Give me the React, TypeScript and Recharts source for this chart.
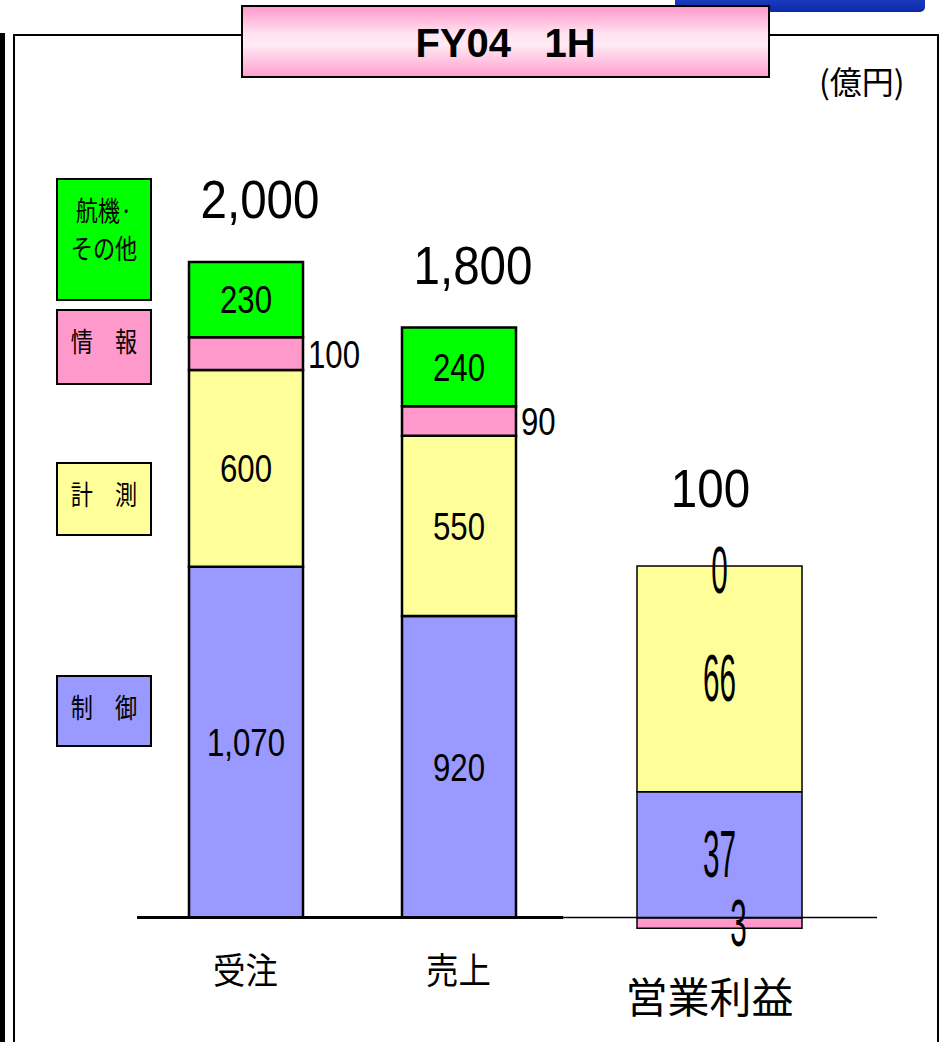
import React from "react";
import { BarChart, Bar, XAxis, YAxis, LabelList, ReferenceLine } from "recharts";

// FY04 1H (億円)
const categories = ["受注", "売上", "営業利益"];

// 受注・売上
const ctrlAmt = [1070, 920, null];
const measAmt = [600, 550, null];
const infoAmt = [100, 90, null];
const otherAmt = [230, 240, null];
const totalAmt = [2000, 1800, null];

// 営業利益
const ctrlProfit = [null, null, 37];
const measProfit = [null, null, 66];
const infoProfit = [null, null, -3];
const otherProfit = [null, null, 0];
const totalProfit = [null, null, 100];

const legendLabels = ["航機·\nその他", "情　報", "計　測", "制　御"];

const COLORS = {
  ctrl: "#9999FF",
  meas: "#FFFF99",
  info: "#FF99CC",
  other: "#00FF00",
};

const data = categories.map((name, i) => ({
  name,
  ctrl: ctrlAmt[i],
  meas: measAmt[i],
  info: infoAmt[i],
  other: otherAmt[i],
  total: totalAmt[i],
  pCtrl: ctrlProfit[i],
  pMeas: measProfit[i],
  pInfo: infoProfit[i],
  pOther: otherProfit[i],
  pTotal: totalProfit[i],
}));

const NUM_FONT = "'Liberation Sans', Arial, sans-serif";
const JP_FONT = "'Noto Sans CJK JP', sans-serif";

const fmt = (v) => Math.abs(Number(v)).toLocaleString("en-US");

const NumText = ({ cx, cy, text, size, sx, anchor = "middle" }) => (
  <g transform={`translate(${cx},${cy}) scale(${sx},1)`}>
    <text
      x={0}
      y={0}
      textAnchor={anchor}
      dominantBaseline="central"
      fontSize={size}
      fontFamily={NUM_FONT}
      fill="#000"
    >
      {text}
    </text>
  </g>
);

// label in the middle of a segment
const midLabel = (size, sx, dx = 0) => (props) => {
  const { x, y, width, height, value } = props;
  if (value == null) return null;
  return (
    <NumText cx={x + width / 2 + dx} cy={y + height / 2} text={fmt(value)} size={size} sx={sx} />
  );
};

// label to the right of a thin segment
const sideLabel = (props) => {
  const { x, y, width, height, value } = props;
  if (value == null) return null;
  return (
    <NumText cx={x + width + 5} cy={y + height / 2} text={fmt(value)} size={39} sx={0.8} anchor="start" />
  );
};

// total above the stack
const totalLabel = (lift, dx) => (props) => {
  const { x, y, width, value } = props;
  if (value == null) return null;
  return <NumText cx={x + width / 2 + dx} cy={y - lift} text={fmt(value)} size={54} sx={0.88} />;
};

// zero-height segment sitting on top of the stack
const topEdgeLabel = (props) => {
  const { x, y, width, value } = props;
  if (value == null) return null;
  return <NumText cx={x + width / 2} cy={y + 4} text={fmt(value)} size={66} sx={0.45} />;
};

const CatTick = ({ x, y, payload, show, size, sx, dx = 0, dy }) => {
  if (!show[payload.index]) return null;
  return (
    <g transform={`translate(${x + dx},${y + dy}) scale(${sx},1)`}>
      <text
        x={0}
        y={0}
        textAnchor="middle"
        dominantBaseline="central"
        fontSize={size}
        fontFamily={JP_FONT}
        fill="#000"
      >
        {payload.value}
      </text>
    </g>
  );
};

const BaseLine = (props) => {
  const { x1, x2, y1 } = props;
  const split = x1 + (x2 - x1) * 0.576;
  return (
    <g>
      <line x1={x1} x2={split} y1={y1} y2={y1} stroke="#000" strokeWidth={3} />
      <line x1={split} x2={x2} y1={y1} y2={y1} stroke="#000" strokeWidth={1.5} />
    </g>
  );
};

const legendBoxes = [
  { color: COLORS.other, top: 178, height: 123 },
  { color: COLORS.info, top: 309, height: 76 },
  { color: COLORS.meas, top: 462, height: 74 },
  { color: COLORS.ctrl, top: 675, height: 72 },
];

export default function App() {
  return (
    <div
      style={{
        position: "absolute",
        left: 0,
        top: 0,
        width: 943,
        height: 1042,
        overflow: "hidden",
        background: "#fff",
      }}
    >
      {/* slide edge + frame */}
      <div style={{ position: "absolute", left: 0, top: 33, width: 5, height: 1020, background: "#000" }} />
      <div
        style={{
          position: "absolute",
          left: 13,
          top: 34,
          width: 922,
          height: 1100,
          border: "2px solid #000",
        }}
      />
      <div
        style={{
          position: "absolute",
          left: 675,
          top: -10,
          width: 250,
          height: 22,
          borderRadius: 5,
          background: "linear-gradient(#2448d0, #0b2aa6)",
        }}
      />
      <div
        style={{
          position: "absolute",
          left: 241,
          top: 5,
          width: 529,
          height: 73,
          border: "2px solid #000",
          boxSizing: "border-box",
          background: "linear-gradient(#ff99cc 0%, #ffe4f1 40%, #ffeaf4 55%, #ff9fcf 100%)",
          display: "flex",
          alignItems: "center",
          justifyContent: "center",
          paddingTop: 4,
          fontFamily: NUM_FONT,
          fontWeight: "bold",
          fontSize: 40,
          whiteSpace: "pre",
        }}
      >
        {"FY04   1H"}
      </div>
      <div
        style={{
          position: "absolute",
          left: 819,
          top: 62,
          fontSize: 32,
          fontFamily: JP_FONT,
          lineHeight: "36px",
        }}
      >
        (億円)
      </div>

      {/* legend */}
      {legendBoxes.map((b, i) => (
        <div
          key={i}
          style={{
            position: "absolute",
            left: 56,
            top: b.top,
            width: 96,
            height: b.height,
            boxSizing: "border-box",
            background: b.color,
            border: "2.5px solid #000",
          }}
        >
          <div
            style={{
              position: "absolute",
              left: 0,
              right: 0,
              top: 11,
              fontFamily: JP_FONT,
              fontSize: 27,
              lineHeight: "38px",
              textAlign: "center",
              whiteSpace: "pre",
              transform: "scaleX(0.82)",
            }}
          >
            {legendLabels[i]}
          </div>
        </div>
      ))}

      <div style={{ position: "absolute", left: 0, top: 0 }}>
        <BarChart
          width={943}
          height={1042}
          data={data}
          stackOffset="sign"
          margin={{ top: 98, right: 66, bottom: 0, left: 137 }}
        >
          <XAxis
            xAxisId="m"
            dataKey="name"
            padding={{ left: 2, right: 99 }}
            axisLine={false}
            tickLine={false}
            tickSize={0}
            height={42}
            interval={0}
            tick={<CatTick show={totalAmt.map((v) => v != null)} size={36} sx={0.9} dy={-4} />}
          />
          <XAxis
            xAxisId="p"
            dataKey="name"
            padding={{ left: 0, right: 41 }}
            axisLine={false}
            tickLine={false}
            tickSize={0}
            height={30}
            interval={0}
            tick={<CatTick show={totalProfit.map((v) => v != null)} size={42} sx={1} dx={-10} dy={-20} />}
          />
          <YAxis yAxisId="m" hide domain={[-160, 2500]} allowDataOverflow />
          <YAxis yAxisId="p" hide domain={[-15.2, 240]} allowDataOverflow />

          <Bar xAxisId="m" yAxisId="m" dataKey="ctrl" stackId="m" barSize={114} fill={COLORS.ctrl} stroke="#000" strokeWidth={2.5} isAnimationActive={false}>
            <LabelList dataKey="ctrl" content={midLabel(39, 0.8)} />
          </Bar>
          <Bar xAxisId="m" yAxisId="m" dataKey="meas" stackId="m" barSize={114} fill={COLORS.meas} stroke="#000" strokeWidth={2.5} isAnimationActive={false}>
            <LabelList dataKey="meas" content={midLabel(39, 0.8)} />
          </Bar>
          <Bar xAxisId="m" yAxisId="m" dataKey="info" stackId="m" barSize={114} fill={COLORS.info} stroke="#000" strokeWidth={2.5} isAnimationActive={false}>
            <LabelList dataKey="info" content={sideLabel} />
          </Bar>
          <Bar xAxisId="m" yAxisId="m" dataKey="other" stackId="m" barSize={114} fill={COLORS.other} stroke="#000" strokeWidth={2.5} isAnimationActive={false}>
            <LabelList dataKey="other" content={midLabel(39, 0.8)} />
            <LabelList dataKey="total" content={totalLabel(62, 14)} />
          </Bar>

          <Bar xAxisId="p" yAxisId="p" dataKey="pCtrl" stackId="p" barSize={165} fill={COLORS.ctrl} stroke="#000" strokeWidth={1.5} isAnimationActive={false}>
            <LabelList dataKey="pCtrl" content={midLabel(66, 0.45)} />
          </Bar>
          <Bar xAxisId="p" yAxisId="p" dataKey="pMeas" stackId="p" barSize={165} fill={COLORS.meas} stroke="#000" strokeWidth={1.5} isAnimationActive={false}>
            <LabelList dataKey="pMeas" content={midLabel(66, 0.45)} />
            {/* 航機・その他 is 0, so its label and the total sit on this segment's top edge */}
            <LabelList dataKey="pOther" content={topEdgeLabel} />
            <LabelList dataKey="pTotal" content={totalLabel(78, -9)} />
          </Bar>
          <Bar xAxisId="p" yAxisId="p" dataKey="pInfo" stackId="p" barSize={165} fill={COLORS.info} stroke="#000" strokeWidth={1.5} isAnimationActive={false}>
            <LabelList dataKey="pInfo" content={midLabel(66, 0.45, 19)} />
          </Bar>
          <Bar xAxisId="p" yAxisId="p" dataKey="pOther" stackId="p" barSize={165} fill={COLORS.other} stroke="#000" strokeWidth={1.5} isAnimationActive={false} />

          <ReferenceLine xAxisId="m" yAxisId="m" y={0} shape={<BaseLine />} />
        </BarChart>
      </div>
    </div>
  );
}
